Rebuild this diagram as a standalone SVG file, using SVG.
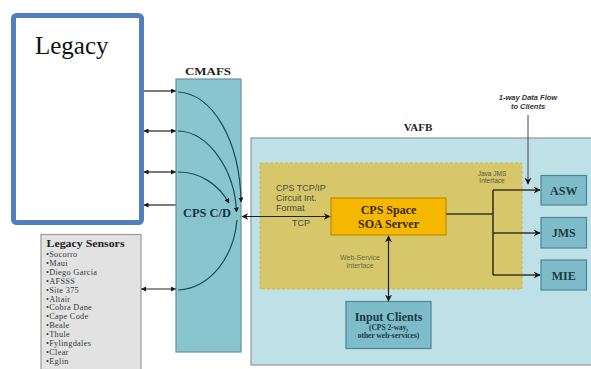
<svg xmlns="http://www.w3.org/2000/svg" width="591" height="369" viewBox="0 0 591 369">
<style>
.serifb{font-family:"Liberation Serif","Times New Roman",serif;font-weight:bold}
.serif{font-family:"Liberation Serif","Times New Roman",serif}
.sans{font-family:"Liberation Sans",Arial,sans-serif}
.ln{fill:none;stroke:#222;stroke-width:1.2}
.cv{fill:none;stroke:#1d4c57;stroke-width:1.2}
.br{fill:none;stroke:#3a3520;stroke-width:1.6}
.cl{fill:#7dbcc8;stroke:#4d8793;stroke-width:1.2}
.cltx{font-size:12px;fill:#1c3a42;text-anchor:middle}
.sens{font-size:8.3px;fill:#383838;letter-spacing:0.3px}
</style>
<defs>
<marker id="ah" viewBox="0 0 10 10" refX="9" refY="5" markerWidth="5" markerHeight="5" orient="auto-start-reverse" markerUnits="userSpaceOnUse">
<path d="M0,0 L10,5 L0,10 Z" fill="#1a1a1a"/>
</marker>
<marker id="ah2" viewBox="0 0 10 10" refX="9" refY="5" markerWidth="7" markerHeight="7" orient="auto-start-reverse" markerUnits="userSpaceOnUse">
<path d="M0,0 L10,5 L0,10 L3,5 Z" fill="#1a1a1a"/>
</marker>
</defs>
<rect width="591" height="369" fill="#ffffff"/>

<g id="vafb">
<rect x="251" y="138" width="345" height="227" fill="#bde1e7" stroke="#8a9a9d" stroke-width="1.2"/>
<text x="418" y="131" class="serifb" font-size="11" text-anchor="middle" fill="#222">VAFB</text>
</g>
<g id="interface-zone">
<rect x="260" y="163" width="262" height="126" fill="#d6c76b" stroke="#cbb856" stroke-width="1" stroke-dasharray="3,2"/>
<text x="276" y="191" class="sans" font-size="9" fill="#4b4a3a">CPS TCP/IP</text>
<text x="276" y="201" class="sans" font-size="9" fill="#4b4a3a">Circuit Int.</text>
<text x="276" y="211" class="sans" font-size="9" fill="#4b4a3a">Format</text>
<text x="301" y="226" class="sans" font-size="9" fill="#4b4a3a" text-anchor="middle">TCP</text>
<text x="492" y="176" class="sans" font-size="6.5" fill="#5a5640" text-anchor="middle">Java JMS</text>
<text x="492" y="182.5" class="sans" font-size="6.5" fill="#5a5640" text-anchor="middle">Interface</text>
<text x="360" y="260" class="sans" font-size="7" fill="#6a6850" text-anchor="middle">Web-Service</text>
<text x="360" y="268" class="sans" font-size="7" fill="#6a6850" text-anchor="middle">Interface</text>
</g>

<g id="legacy">
<rect x="13.5" y="15.5" width="128" height="207" rx="3" fill="#ffffff" stroke="#4f7fbf" stroke-width="5"/>
<text x="35" y="54" class="serif" font-size="25" fill="#111">Legacy</text>
</g>

<g id="cmafs">
<rect x="176" y="79" width="65" height="273" fill="#88c5cf" stroke="#6a8f96" stroke-width="1.2"/>
<text x="208" y="75" class="serifb" font-size="11" text-anchor="middle" fill="#222" textLength="46" lengthAdjust="spacingAndGlyphs">CMAFS</text>
<text x="183" y="216.5" class="serifb" font-size="12" fill="#17343b" textLength="48" lengthAdjust="spacingAndGlyphs">CPS C/D</text>
</g>

<g id="legacy-sensors">
<rect x="41" y="234.5" width="100" height="140" fill="#e2e2e2" stroke="#9c9c9c" stroke-width="1.2"/>
<text x="46.5" y="247" class="serifb" font-size="11" fill="#222" textLength="78" lengthAdjust="spacingAndGlyphs">Legacy Sensors</text>
<text class="serif sens">
<tspan x="46" y="257">•Socorro</tspan>
<tspan x="46" y="265.9">•Maui</tspan>
<tspan x="46" y="274.8">•Diego Garcia</tspan>
<tspan x="46" y="283.7">•AFSSS</tspan>
<tspan x="46" y="292.6">•Site 375</tspan>
<tspan x="46" y="301.5">•Altair</tspan>
<tspan x="46" y="310.4">•Cobra Dane</tspan>
<tspan x="46" y="319.3">•Cape Code</tspan>
<tspan x="46" y="328.2">•Beale</tspan>
<tspan x="46" y="337.1">•Thule</tspan>
<tspan x="46" y="346">•Fylingdales</tspan>
<tspan x="46" y="354.9">•Clear</tspan>
<tspan x="46" y="363.8">•Eglin</tspan>
</text>
</g>

<g id="cps-server">
<rect x="331" y="198" width="115" height="37" fill="#f5b800" stroke="#c38a00" stroke-width="1.2"/>
<text x="388.5" y="213.5" class="serifb" font-size="12" fill="#3a2800" text-anchor="middle">CPS Space</text>
<text x="388.5" y="228" class="serifb" font-size="12" fill="#3a2800" text-anchor="middle">SOA Server</text>
</g>

<g id="asw">
<rect class="cl" x="541" y="175.5" width="45.5" height="29.5"/>
<text x="563.75" y="194.5" class="serifb cltx">ASW</text>
</g>
<g id="jms">
<rect class="cl" x="541" y="217.5" width="45.5" height="30.5"/>
<text x="563.75" y="237" class="serifb cltx">JMS</text>
</g>
<g id="mie">
<rect class="cl" x="541" y="260" width="45.5" height="30"/>
<text x="563.75" y="279.5" class="serifb cltx">MIE</text>
</g>

<g id="input-clients">
<rect class="cl" x="346" y="301.5" width="85" height="47"/>
<text x="388.5" y="321" class="serifb" font-size="12" fill="#1c3a42" text-anchor="middle">Input Clients</text>
<text x="388.5" y="330" class="serifb" font-size="7.5" fill="#1c3a42" text-anchor="middle">(CPS 2-way,</text>
<text x="388.5" y="338" class="serifb" font-size="7.5" fill="#1c3a42" text-anchor="middle">other web-services)</text>
</g>

<g id="flow-note">
<text x="528" y="100" class="sans" font-size="7.5" font-weight="bold" font-style="italic" fill="#333" text-anchor="middle">1-way Data Flow</text>
<text x="528" y="109" class="sans" font-size="7.5" font-weight="bold" font-style="italic" fill="#333" text-anchor="middle">to Clients</text>
</g>

<g id="connectors">
<line class="ln" x1="144" y1="91" x2="175.5" y2="91" marker-end="url(#ah)"/>
<line class="ln" x1="144" y1="131" x2="175.5" y2="131" marker-start="url(#ah)" marker-end="url(#ah)"/>
<line class="ln" x1="144" y1="172" x2="175.5" y2="172" marker-start="url(#ah)" marker-end="url(#ah)"/>
<line class="ln" x1="144" y1="205" x2="175.5" y2="205" marker-start="url(#ah)"/>
<line class="ln" x1="141.5" y1="289" x2="175.5" y2="289" marker-start="url(#ah)" marker-end="url(#ah)"/>
<path class="cv" d="M178,92 C212,93 240,140 241,202" marker-end="url(#ah)"/>
<path class="cv" d="M178,131 C210,132 235,172 236.5,212" marker-end="url(#ah)"/>
<path class="cv" d="M178,172 C200,172 218,184 229,203" marker-end="url(#ah)"/>
<path class="cv" d="M178,290 C212,288 234,255 237,220"/>
<line class="ln" x1="242" y1="216.5" x2="330" y2="216.5" marker-start="url(#ah2)" marker-end="url(#ah2)"/>
<line class="ln" x1="388.5" y1="236" x2="388.5" y2="301" stroke-width="1.5" marker-start="url(#ah2)" marker-end="url(#ah2)"/>
<path class="br" d="M446,214 H493 M493,190 V275"/>
<line class="br" x1="493" y1="190" x2="540" y2="190" marker-end="url(#ah2)"/>
<line class="br" x1="493" y1="233" x2="540" y2="233" marker-end="url(#ah2)"/>
<line class="br" x1="493" y1="275" x2="540" y2="275" marker-end="url(#ah2)"/>
<line x1="528" y1="115" x2="528" y2="184" stroke="#444" stroke-width="1" marker-end="url(#ah2)"/>
</g>
</svg>
